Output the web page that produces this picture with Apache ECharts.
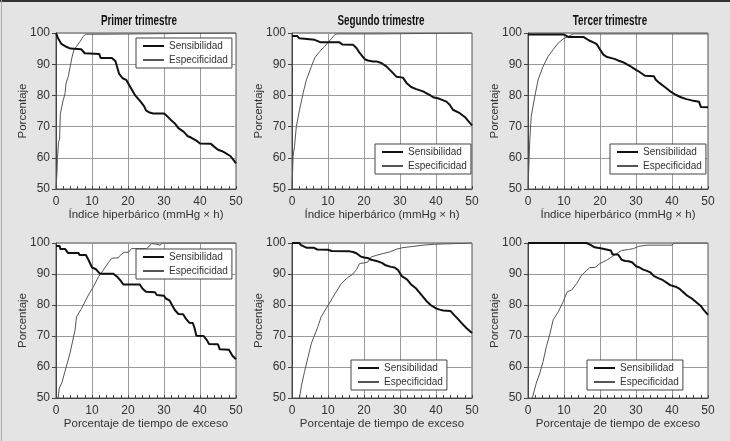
<!DOCTYPE html>
<html><head><meta charset="utf-8">
<script src="https://cdn.jsdelivr.net/npm/echarts@6/dist/echarts.min.js"></script>
<style>html,body{margin:0;padding:0;background:#e4e4e4;}#c{width:730px;height:441px;}</style>
</head><body><div id="c"></div>
<script>
const titles = ["Primer trimestre", "Segundo trimestre", "Tercer trimestre"];
const xNameTop = "Índice hiperbárico (mmHg × h)";
const xNameBottom = "Porcentaje de tiempo de exceso";
const yName = "Porcentaje";
const seriesNames = ["Sensibilidad", "Especificidad"];
const xTicks = [0, 10, 20, 30, 40, 50];
const yTicks = [50, 60, 70, 80, 90, 100];

const sens1 = [[0,100],[0.5,98.5],[1,98],[1.5,96.5],[2,96],[3,95.5],[4,95],[7,94.8],[8,93.5],[8.3,93.3],[12,93.3],[12.4,92],[15.5,92],[16.5,91],[17,89],[17.5,87],[18.5,85.5],[19.5,85],[20,84],[21,82],[22,80],[23.5,78],[24.5,76.5],[25,75.2],[26,74.5],[27,74.2],[30,74.2],[31,73.2],[32,72],[33,71],[34,69.5],[35.5,68.3],[36.5,67],[37.5,66.5],[39,65.5],[40,64.6],[43,64.5],[44,63.5],[45,62.6],[46,62.2],[47,61.6],[48.5,60.5],[49.5,59],[50,58.2]];
const espec1 = [[0,50],[0.3,56],[0.4,60],[0.7,65],[1,66],[1.2,74],[1.7,74.5],[2,78.5],[2.5,80.5],[2.8,84],[3.4,86],[3.9,89],[4.4,92],[5,94.7],[5.7,95.7],[6.7,97.3],[7.6,98.9],[8.2,99.6],[12.3,99.6],[12.5,100],[50,100]];
const sens2 = [[0,99],[1.5,99],[2,98.3],[2.5,97.8],[6.3,97.8],[6.8,97.2],[8,97],[13.2,97],[14,96.3],[17,96.2],[17.9,95.2],[18.8,93.6],[20.2,91.6],[21.1,91.2],[22.5,90.9],[23.4,90.9],[24.8,90.4],[26.2,89.3],[27.6,87.7],[29,86],[30.8,85.7],[31.8,84],[33.1,82.7],[34.5,82],[36.4,81.3],[38.2,80.2],[39.2,79.4],[41,78.9],[42.9,78],[43.8,77],[44.7,75.4],[46.6,74.3],[48,73.1],[49.4,71.2],[50,70.4]];
const espec2 = [[0,50],[0.3,60.5],[0.7,63.7],[1.2,70],[2.1,75.4],[3.1,80.8],[4,85],[5.4,89.3],[6.3,92],[7.7,94.1],[9.1,95.7],[10,97],[10.9,98.1],[11.9,99.5],[12.5,99.7],[23.5,99.7],[23.7,100],[50,100]];
const sens3 = [[0,99.5],[10,99.5],[10.5,99],[11.3,98.7],[15.5,98.7],[16,98.1],[17,97.6],[18,97.1],[19,96.5],[19.5,95.7],[20,94.7],[21,93],[22,92.3],[24,91.7],[25,91.2],[26,90.8],[27,90.3],[28.5,89.3],[30,88.2],[31,87.5],[32.5,86.3],[35,86.1],[35.5,85],[36.5,84],[38,82.7],[39.5,81.3],[41,80.2],[42.5,79.4],[44,78.8],[45.5,78.4],[47.5,78],[48,76.3],[50,76.2]];
const espec3 = [[0,50],[0.3,59.4],[0.5,65.8],[0.9,73.3],[1.9,79.7],[2.8,85],[4.2,89.3],[5.6,92.5],[7,94.7],[8.4,96.8],[9.8,98.1],[11.2,98.9],[12.5,99.7],[50,99.7]];
const sens4 = [[0,99],[1,99],[1.2,98.1],[2.5,98.1],[2.8,97.5],[3.3,96.8],[6.2,96.8],[6.6,96.1],[8.3,96.1],[9,94.6],[10,92.1],[11,91.6],[11.5,91.2],[12.2,90.1],[15.9,90.1],[17,89.1],[18,87.8],[18.7,86.6],[23.3,86.6],[24,85.3],[25,84.3],[27.5,84.1],[28,83.2],[30,83],[30.5,82.1],[31.5,81.5],[32,80.5],[33,78.4],[34,77.1],[35.3,77],[36,75.7],[37,74.3],[38,74.2],[38.5,72.5],[39,70.1],[41,70],[42,68.5],[42.5,67.4],[45,67.3],[45.5,65.7],[48,65.6],[48.5,64.7],[49,63.6],[50,62.5]];
const espec4 = [[0.6,50],[0.9,53.2],[1.6,54.8],[2.5,58.6],[3.9,64.5],[5.3,72],[5.7,76.2],[7.1,78.9],[9,83.2],[10.4,85.9],[11.8,89.1],[13.1,91.2],[14.5,93.6],[15.5,95.1],[17.3,95.2],[17.8,96],[18.9,97],[20.1,97],[21,98.2],[25.2,98.2],[26.6,99.8],[28,99.6],[28.9,99.3],[29.6,100],[50,100]];
const sens5 = [[0,100],[2,100],[2.5,99.3],[3,99],[4,98.5],[6,98.5],[7,97.9],[10,97.8],[11,97.4],[16,97.3],[17,97.1],[18,96.6],[19,95.7],[20,95.3],[21,95.2],[22,94.6],[23.5,94.2],[25,93.6],[26,92.8],[27.5,92.3],[28.5,92.1],[29.5,91.2],[30.5,89.3],[32,88.2],[33,86.7],[34.5,85.3],[36,83.2],[37.5,81.1],[38.5,80],[40,78.9],[41,78.5],[42,78.2],[44,78.1],[45,76.8],[46,75.6],[47,74.3],[48.5,72.5],[50,71]];
const espec5 = [[2.1,50],[2.6,53.9],[3.5,58.6],[4.4,62.9],[5.4,67.7],[6.3,70.3],[7.2,73],[8.1,76.2],[9.5,78.9],[10.9,81.6],[12.3,84.3],[13.7,86.9],[15.1,88.5],[17,90.1],[17.9,91.4],[18.8,93.4],[20.2,93.6],[21.1,93.9],[22,95.5],[23.4,96],[25.3,96.6],[27.1,97.1],[29,98],[30.8,98.5],[33.6,98.9],[36.4,99.3],[39.6,99.6],[40.1,100],[50,100]];
const sens6 = [[0,100],[16.3,100],[16.8,99.5],[17.5,99.3],[18.5,98.6],[19,98.2],[20.5,98.2],[21,97.6],[23,97.6],[23.5,96.3],[25,96.3],[25.5,95.5],[26,94.6],[27,94.2],[28,94.1],[29,93.7],[30,92.5],[31,92.1],[32,91.4],[33,91],[34,90.5],[35,89.3],[36.5,88.5],[37.5,88],[38.5,87.2],[39.5,86.4],[41,85.9],[42,85.3],[43,84.3],[44,83.2],[45.5,82.1],[46.5,81.1],[48,79.7],[48.8,78.4],[50,76.8]];
const espec6 = [[1.2,50],[2.3,54.8],[3.3,58.1],[4.2,61.8],[5.1,66.6],[6,70.3],[7,75.2],[8.4,77.8],[9.8,81.1],[10.9,84.3],[12.1,84.8],[13.5,86.9],[14.9,89.6],[16.3,91.2],[17.2,92.1],[18.6,92.1],[20,93.4],[21.8,94.4],[23.2,95.5],[24.6,96.6],[26,97.6],[27.9,97.9],[29.3,98.2],[30.7,98.9],[33,99.3],[40,99.3],[40.4,100],[50,100]];

const sensAll = [sens1, sens2, sens3, sens4, sens5, sens6];
const especAll = [espec1, espec2, espec3, espec4, espec5, espec6];

// layout
const gridLefts = [56, 292, 528];
const gridTops = [33, 243];
const gridW = 180;
const legendPos = [[136,38],[375,144],[610,144],[136,249],[351,360],[587,360]];
const titlePos = [[139,21],[381,21],[610,21]];

const FONT = "'Liberation Sans', Arial, sans-serif";
const grids = [], xAxes = [], yAxes = [], series = [], legends = [];
for (let i = 0; i < 6; i++) {
  const row = Math.floor(i / 3), col = i % 3;
  grids.push({left: gridLefts[col], top: gridTops[row], width: gridW, height: row === 0 ? 156 : 155,
    show: true, backgroundColor: '#fff', borderColor: '#555', borderWidth: 1, containLabel: false});
  xAxes.push({type: 'value', gridIndex: i, min: xTicks[0], max: xTicks[xTicks.length-1], interval: 10,
    name: row === 0 ? xNameTop : xNameBottom, nameLocation: 'middle', nameGap: 20, nameMoveOverlap: false,
    nameTextStyle: {fontFamily: FONT, fontSize: 11.5, color: '#333'},
    axisLine: {show: true, onZero: false, lineStyle: {color: '#444', width: 1}},
    axisTick: {show: true, inside: true, length: 3, lineStyle: {color: '#444'}},
    minorTick: {show: true, splitNumber: 5, length: 3, lineStyle: {color: '#444'}},
    axisLabel: {margin: 7, fontFamily: FONT, fontSize: 12, color: '#333'},
    splitLine: {show: true, lineStyle: {color: '#999', width: 1}}});
  yAxes.push({type: 'value', gridIndex: i, min: yTicks[0], max: yTicks[yTicks.length-1], interval: 10,
    name: yName, nameLocation: 'middle', nameGap: 27, nameRotate: 90, nameMoveOverlap: false,
    nameTextStyle: {fontFamily: FONT, fontSize: 11.5, color: '#333'},
    axisLine: {show: true, onZero: false, lineStyle: {color: '#444', width: 1}},
    axisTick: {show: true, inside: false, length: 4, lineStyle: {color: '#444'}},
    axisLabel: {margin: 6, fontFamily: FONT, fontSize: 12, color: '#333'},
    splitLine: {show: true, lineStyle: {color: '#999', width: 1}}});
  series.push({name: seriesNames[0], type: 'line', xAxisIndex: i, yAxisIndex: i, data: sensAll[i],
    symbol: 'none', lineStyle: {color: '#111', width: 2}, itemStyle: {color: '#111'}, z: 3, animation: false});
  series.push({name: seriesNames[1], type: 'line', xAxisIndex: i, yAxisIndex: i, data: especAll[i],
    symbol: 'none', lineStyle: {color: '#555', width: 1}, itemStyle: {color: '#555'}, z: 2, animation: false});
  legends.push({data: seriesNames, orient: 'vertical', left: legendPos[i][0], top: legendPos[i][1],
    backgroundColor: '#fff', borderColor: '#444', borderWidth: 1, borderRadius: 0,
    padding: [3, 4, 3, 6], itemWidth: 21, itemHeight: 10, itemGap: 4, selectedMode: false,
    itemStyle: {opacity: 0},
    textStyle: {fontFamily: FONT, fontSize: 10, color: '#333'}});
}
const graphics = [
  {type: 'rect', shape: {x: 0, y: 0, width: 730, height: 2}, style: {fill: '#333'}, silent: true},
  {type: 'rect', shape: {x: 1, y: 0, width: 1, height: 441}, style: {fill: '#aaa'}, silent: true}
];
titles.forEach((t, k) => graphics.push({type: 'text', x: titlePos[k][0], y: titlePos[k][1], scaleX: 0.68,
  style: {text: t, fontFamily: FONT, fontWeight: 'bold', fontSize: 14.5, fill: '#111', textAlign: 'center', textVerticalAlign: 'middle'}}));

const chart = echarts.init(document.getElementById('c'), null, {renderer: 'canvas'});
chart.setOption({backgroundColor: '#e4e4e4', animation: false, grid: grids, xAxis: xAxes, yAxis: yAxes,
  series: series, legend: legends, graphic: graphics});
</script></body></html>
